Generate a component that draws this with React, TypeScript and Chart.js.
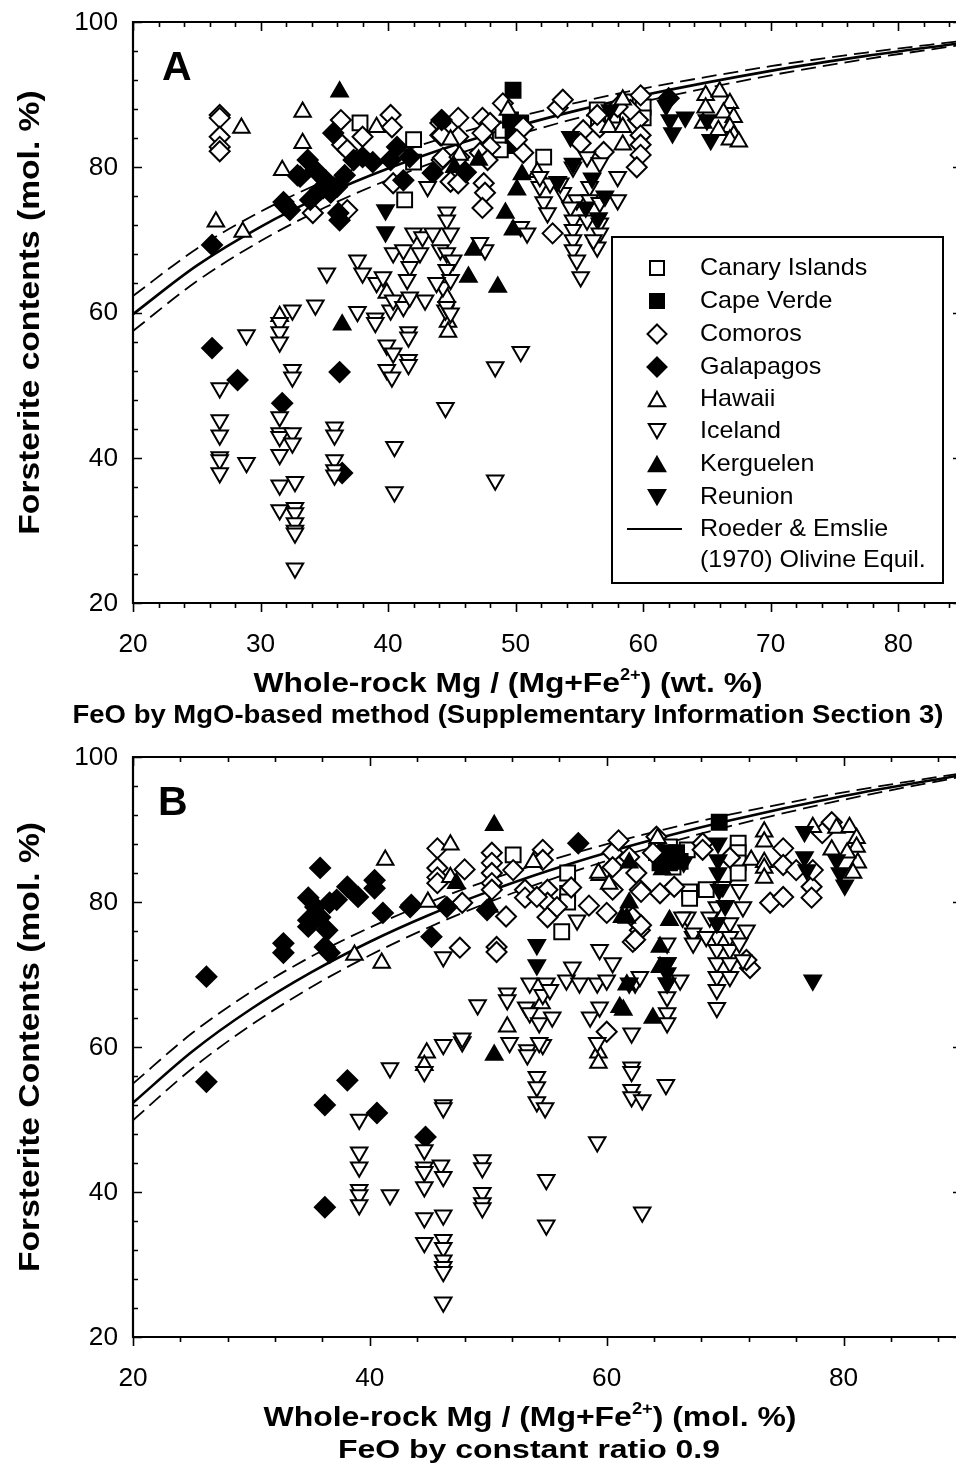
import React, { useEffect, useRef } from 'react';
import { Chart, registerables } from 'chart.js';

Chart.register(...registerables);

const FONT = '"Liberation Sans", Arial, Helvetica, sans-serif';

type Pt = [number, number];

// ---------- Panel A: whole-rock Mg# (wt. %) vs olivine Fo (mol. %) ----------
const canaryA: Pt[] = [[37.8,86.1],[42.0,83.8],[42.0,80.7],[41.3,75.5],[52.2,81.4],[48.8,83.8],[48.8,82.4],[56.4,87.9],[56.5,86.5],[60.0,88.3],[60.0,86.8],[49.0,85.1],[57.6,87.2],[58.6,89.0]];
const capeVerdeA: Pt[] = [[49.8,90.6],[49.6,86.5],[50.4,86.1],[49.8,84.4],[50.0,83.0]];
const comorosA: Pt[] = [[26.8,87.2],[26.8,86.8],[26.8,84.2],[26.8,82.8],[26.8,82.2],[36.3,86.5],[36.4,83.1],[38.0,84.2],[40.2,87.2],[40.3,85.5],[44.1,86.1],[44.1,84.4],[44.2,81.0],[40.4,77.8],[34.1,73.7],[36.8,82.4],[36.8,74.1],[44.2,86.5],[45.5,86.8],[44.2,84.4],[45.5,84.2],[47.4,86.8],[48.0,86.1],[47.4,84.7],[48.0,82.8],[47.2,82.0],[47.8,81.0],[44.3,81.3],[45.6,81.4],[44.9,78.0],[45.5,77.8],[47.5,77.8],[47.6,76.5],[47.4,74.4],[50.6,82.0],[52.9,70.9],[49.0,88.8],[50.6,85.5],[50.1,83.8],[53.3,88.2],[53.7,89.3],[55.3,85.1],[56.6,85.5],[55.1,83.3],[56.4,87.2],[59.8,89.9],[59.6,86.5],[59.8,84.4],[59.8,83.1],[59.8,81.7],[59.5,80.0],[59.0,87.9],[58.0,88.3],[56.9,82.1]];
const galapagosA: Pt[] = [[26.2,69.3],[26.2,55.1],[28.2,50.7],[31.7,47.5],[36.2,51.8],[36.4,37.9],[32.9,78.9],[35.7,84.7],[34.7,76.9],[35.5,76.5],[36.0,77.3],[36.2,72.7],[31.9,74.8],[32.3,74.1],[34.9,77.1],[36.1,73.7],[31.8,75.2],[33.1,78.7],[37.3,81.0],[38.0,81.4],[38.8,80.7],[40.7,82.8],[41.2,78.2],[43.5,79.2],[41.7,81.4],[44.2,86.5],[34.3,79.6],[35.1,78.2],[33.9,75.5],[36.6,78.9],[33.7,81.0],[40.2,81.0],[46.1,79.3],[62.0,89.5]];
const hawaiiA: Pt[] = [[33.3,87.6],[28.5,85.4],[33.3,83.3],[31.7,79.6],[26.5,72.5],[28.6,71.1],[39.1,85.5],[31.5,59.5],[44.7,58.7],[44.7,57.3],[39.9,62.7],[44.9,83.8],[49.4,87.9],[51.7,79.3],[57.3,85.5],[58.4,89.3],[58.4,85.5],[58.4,83.1],[64.9,89.9],[66.0,90.4],[66.8,88.8],[64.9,88.2],[66.3,87.5],[67.1,86.9],[64.7,86.1],[66.8,85.5],[65.9,85.1],[67.1,84.4],[66.8,83.8],[67.5,83.5],[44.6,62.1],[45.6,81.7]];
const icelandA: Pt[] = [[28.9,56.9],[31.5,58.6],[31.5,57.3],[31.5,55.9],[26.8,49.6],[26.8,45.2],[26.8,43.1],[26.8,40.1],[26.8,39.7],[26.8,37.9],[28.9,39.3],[31.5,45.6],[31.5,43.4],[31.5,42.9],[32.5,43.4],[32.5,42.0],[31.5,40.4],[31.5,36.2],[32.7,36.7],[31.5,32.8],[32.7,33.1],[32.7,32.4],[32.7,31.0],[32.7,30.0],[32.7,29.6],[32.7,24.8],[32.5,52.1],[32.5,51.1],[34.3,61.0],[32.5,60.3],[35.8,44.2],[35.8,43.1],[35.8,39.7],[35.8,38.3],[35.8,37.6],[37.6,60.1],[39.0,59.2],[39.0,58.6],[40.2,60.3],[39.9,55.5],[40.4,54.4],[39.9,52.1],[40.3,51.1],[41.6,57.3],[41.6,56.6],[41.6,53.5],[41.6,52.8],[40.5,41.5],[40.5,35.3],[44.5,46.9],[44.5,60.3],[48.4,52.5],[50.4,54.6],[48.4,36.9],[35.2,65.4],[37.6,67.2],[38.0,65.4],[39.1,64.1],[39.6,64.9],[40.4,68.2],[41.2,68.6],[41.7,66.3],[40.4,61.7],[41.2,60.8],[41.7,62.1],[43.1,77.3],[44.6,73.8],[44.6,72.7],[44.9,70.9],[42.0,70.9],[42.7,70.4],[43.5,70.9],[42.5,68.2],[44.1,68.6],[44.6,68.2],[45.1,67.2],[44.6,65.9],[44.3,63.5],[44.9,64.5],[41.5,64.5],[43.8,64.1],[44.6,60.8],[44.9,59.9],[47.6,68.6],[47.2,69.6],[50.4,71.8],[50.9,70.9],[51.9,77.3],[52.7,77.8],[52.2,75.2],[52.5,73.7],[53.7,76.5],[54.8,75.5],[54.3,74.5],[54.5,72.7],[54.5,71.4],[54.5,70.0],[54.5,68.6],[54.8,67.2],[55.1,64.9],[55.8,77.3],[55.8,75.5],[55.6,72.7],[56.6,75.1],[56.6,72.3],[56.6,70.9],[58.0,78.7],[58.0,75.5],[56.4,69.0],[56.1,70.0],[54.5,80.0],[55.6,81.4],[53.5,77.8],[51.9,78.7],[56.6,80.6],[42.9,61.7]];
const kerguelenA: Pt[] = [[36.2,90.4],[36.4,58.3],[49.2,73.7],[49.8,71.4],[46.3,64.9],[48.6,63.5],[46.7,68.6],[50.1,76.9],[47.1,81.0],[45.2,80.0],[50.5,79.0]];
const reunionA: Pt[] = [[39.8,74.1],[39.8,71.1],[54.3,84.2],[57.4,87.9],[62.1,86.5],[62.3,84.7],[63.3,86.9],[65.3,83.8],[65.0,86.5],[54.5,80.5],[56.0,78.5],[57.0,76.0],[55.5,74.5],[56.5,73.0],[53.3,78.0],[61.8,88.5]];

// Roeder & Emslie (1970) equilibrium curve, KD 0.30 (solid) and 0.27 / 0.33 (dashed)
const curveAx = [20, 25, 30, 35, 40, 45, 50, 55, 60, 70, 77.5, 85];
const curveASolid = [59.77, 66.45, 71.80, 76.19, 79.84, 82.94, 85.59, 87.90, 89.91, 93.27, 95.34, 97.11];
const curveAUpper = [62.28, 68.77, 73.89, 78.06, 81.49, 84.39, 86.85, 88.98, 90.83, 93.91, 95.79, 97.40];
const curveALower = [57.46, 64.30, 69.84, 74.42, 78.27, 81.55, 84.38, 86.85, 89.02, 92.65, 94.90, 96.84];

// ---------- Panel B: whole-rock Mg# (mol. %) vs olivine Fo (mol. %) ----------
const canaryB: Pt[] = [[52.1,86.5],[56.7,84.0],[56.7,81.2],[56.7,80.0],[56.2,75.9],[67.0,81.4],[65.3,87.6],[65.6,86.2],[65.6,84.8],[71.1,88.1],[71.1,86.8],[71.1,85.4],[71.1,84.0],[68.4,81.7],[66.8,87.2],[67.0,80.5]];
const capeVerdeB: Pt[] = [[69.5,91.0],[64.2,86.8],[65.1,86.8],[65.9,86.8],[64.5,85.4],[65.3,85.4],[66.2,85.6]];
const comorosB: Pt[] = [[45.7,87.4],[45.7,84.7],[45.7,83.4],[45.7,82.6],[47.8,79.9],[47.6,73.7],[50.3,86.8],[50.3,85.4],[50.3,84.0],[50.3,82.6],[50.3,81.7],[50.7,73.8],[50.7,73.1],[52.1,84.4],[53.1,81.7],[53.1,80.6],[54.6,87.2],[54.6,85.8],[55.0,81.7],[55.0,79.9],[55.0,77.9],[54.1,80.7],[55.8,79.3],[60.5,86.8],[60.5,84.8],[60.5,81.7],[60.0,78.5],[62.2,77.9],[62.8,76.1],[62.2,74.5],[61.9,86.2],[64.2,89.0],[63.9,86.8],[62.8,81.7],[64.5,81.2],[65.7,82.1],[60.0,62.1],[68.1,88.1],[68.1,87.2],[70.4,86.1],[72.1,70.9],[73.8,79.9],[74.9,80.7],[74.9,87.4],[74.9,85.1],[77.3,82.1],[77.3,80.6],[79.0,91.0],[78.2,89.5],[76.0,84.4],[77.4,84.4],[62.5,84.0],[62.9,81.4],[62.4,74.8],[62.9,76.8],[71.8,72.0],[61.0,88.5],[57.0,82.0],[58.5,79.5],[51.5,78.0],[48.0,84.5]];
const galapagosB: Pt[] = [[35.8,84.7],[34.8,80.6],[34.8,77.5],[34.8,76.6],[35.8,77.9],[36.4,76.1],[36.2,73.8],[36.6,73.0],[37.2,80.3],[38.1,82.1],[39.0,80.7],[40.4,83.0],[40.4,81.9],[41.1,78.5],[43.5,79.6],[32.7,74.3],[32.7,73.0],[26.2,69.7],[35.4,79.3],[36.6,79.9],[43.4,79.3],[46.5,79.3],[49.9,78.9],[45.2,75.2],[57.6,88.1],[26.2,55.2],[36.2,52.0],[38.1,55.4],[40.6,50.9],[36.2,37.9],[44.7,47.6]];
const hawaiiB: Pt[] = [[41.3,85.8],[38.7,72.7],[41.0,71.6],[46.8,87.9],[44.9,80.0],[46.8,83.4],[53.8,85.5],[59.4,83.7],[64.3,88.8],[51.6,62.8],[44.8,59.2],[44.6,57.5],[59.3,59.2],[59.3,57.8],[73.3,89.7],[73.3,88.3],[72.2,85.8],[73.3,85.5],[73.3,84.7],[73.3,83.3],[79.4,90.2],[80.5,90.3],[81.1,88.8],[81.1,87.6],[81.2,85.4],[80.8,84.0],[79.0,87.2],[80.3,86.8],[77.4,90.3],[59.3,84.0],[60.2,82.5],[54.5,66.0]];
const icelandB: Pt[] = [[41.7,57.1],[39.1,50.0],[39.1,45.5],[39.1,43.4],[39.1,40.3],[39.1,39.6],[39.1,38.2],[41.7,39.6],[44.6,56.6],[44.6,45.8],[44.6,43.4],[44.6,42.8],[46.0,43.7],[46.2,42.1],[44.6,40.7],[44.6,36.4],[46.2,36.8],[44.6,33.0],[46.2,33.4],[46.2,32.3],[46.2,30.6],[46.2,29.7],[46.2,29.0],[46.2,24.8],[46.2,52.0],[46.2,51.6],[49.5,44.4],[49.5,43.3],[49.5,39.9],[49.5,38.5],[49.5,37.8],[54.9,41.7],[54.9,35.4],[63.0,37.2],[59.2,46.9],[62.1,57.2],[62.1,56.6],[62.1,54.1],[62.1,53.1],[63.0,52.7],[65.0,54.8],[53.3,59.6],[53.3,58.9],[54.1,55.9],[54.1,54.5],[54.1,52.4],[54.8,51.6],[51.8,60.6],[54.6,60.3],[47.8,60.7],[46.2,60.3],[59.2,60.6],[57.5,77.5],[46.2,72.4],[49.1,65.8],[47.8,61.2],[51.6,67.4],[51.6,66.5],[53.5,68.8],[54.9,68.8],[53.2,65.5],[53.5,64.7],[54.6,67.2],[55.2,67.9],[54.3,63.3],[55.4,64.1],[54.3,60.6],[56.6,69.2],[57.1,71.0],[57.7,68.8],[59.2,68.8],[60.0,69.2],[59.4,73.4],[60.5,71.6],[58.6,64.1],[59.4,65.5],[62.1,61.9],[62.4,68.8],[62.8,69.7],[65.1,74.3],[65.1,71.6],[65.1,68.8],[65.1,66.9],[65.1,64.7],[65.1,63.3],[66.8,77.9],[67.3,75.2],[66.2,69.2],[67.3,75.7],[67.3,74.3],[69.3,79.3],[69.3,77.1],[69.3,75.2],[69.3,73.4],[69.3,71.6],[69.3,69.7],[69.3,67.9],[69.3,65.4],[70.4,77.1],[70.4,75.2],[70.4,73.4],[70.4,71.6],[70.4,69.7],[71.5,79.3],[71.8,76.1],[71.2,74.3],[71.5,72.0],[68.7,77.9],[68.4,75.2],[66.4,77.9],[69.8,82.1],[71.2,81.7]];
const kerguelenB: Pt[] = [[50.5,90.6],[61.4,65.1],[63.9,64.0],[50.5,58.9],[61.9,79.9],[61.7,77.8],[65.3,77.5],[64.5,73.8],[47.3,82.6],[50.1,79.3],[61.9,85.4],[61.3,77.9],[64.5,71.0],[61.7,68.6],[61.1,65.5],[64.7,84.5]];
const reunionB: Pt[] = [[54.1,74.1],[54.1,71.3],[61.9,68.8],[65.1,71.6],[65.1,70.2],[65.1,68.8],[69.4,88.1],[69.4,85.8],[69.4,84.0],[69.5,81.7],[76.7,89.7],[76.7,86.2],[76.9,84.4],[79.4,85.8],[79.7,84.0],[77.4,69.2],[69.3,77.1],[80.1,82.3],[70.0,79.5],[66.5,85.5]];

const curveBx = [20, 25, 30, 35, 40, 45, 50, 55, 60, 65, 70, 80, 90];
const curveBSolid = [52.30, 59.38, 65.27, 70.25, 74.52, 78.21, 81.43, 84.28, 86.81, 89.06, 91.10, 94.61, 97.53];
const curveBUpper = [54.95, 61.92, 67.64, 72.43, 76.48, 79.96, 82.99, 85.64, 87.98, 90.06, 91.92, 95.12, 97.77];
const curveBLower = [49.90, 57.04, 63.06, 68.21, 72.65, 76.52, 79.94, 82.96, 85.67, 88.09, 90.29, 94.10, 97.29];

const yTickLabels = [20, 40, 60, 80, 100];
const xTickLabelsA = [20, 30, 40, 50, 60, 70, 80];
const xTickLabelsB = [20, 40, 60, 80];

type Kind = 'square' | 'diamond' | 'up' | 'down';
const SERIES: { name: string; kind: Kind; filled: boolean }[] = [
  { name: 'Canary Islands', kind: 'square', filled: false },
  { name: 'Cape Verde', kind: 'square', filled: true },
  { name: 'Comoros', kind: 'diamond', filled: false },
  { name: 'Galapagos', kind: 'diamond', filled: true },
  { name: 'Hawaii', kind: 'up', filled: false },
  { name: 'Iceland', kind: 'down', filled: false },
  { name: 'Kerguelen', kind: 'up', filled: true },
  { name: 'Reunion', kind: 'down', filled: true },
];

function scatterSets(groups: Pt[][]) {
  return groups.map((pts, i) => {
    const s = SERIES[i];
    const style = s.kind === 'square' ? 'rect' : s.kind === 'diamond' ? 'rectRot' : 'triangle';
    const r = s.kind === 'square' ? 10.5 : s.kind === 'diamond' ? 10 : 9.5;
    return {
      label: s.name,
      data: pts.map(([x, y]) => ({ x, y })),
      showLine: false,
      pointStyle: style,
      pointRotation: s.kind === 'down' ? 180 : 0,
      pointRadius: r,
      pointHoverRadius: r,
      pointBackgroundColor: s.filled ? '#000' : '#fff',
      pointBorderColor: '#000',
      pointBorderWidth: 2,
      order: 8 - i,
    };
  });
}

function curveSets(xs: number[], solid: number[], upper: number[], lower: number[]) {
  const mk = (ys: number[], dashed: boolean) => ({
    label: dashed ? 'bound' : 'Roeder & Emslie (1970) Olivine Equil.',
    data: xs.map((x, i) => ({ x, y: ys[i] })),
    showLine: true,
    fill: false,
    borderColor: '#000',
    borderWidth: dashed ? 1.8 : 2.6,
    borderDash: dashed ? [15, 7] : [],
    cubicInterpolationMode: 'monotone',
    pointRadius: 0,
    pointHoverRadius: 0,
    order: 20,
  });
  return [mk(solid, false), mk(upper, true), mk(lower, true)];
}

function drawText(
  ctx: CanvasRenderingContext2D, s: string, x: number, y: number, font: string,
  align: 'left' | 'center' | 'right', sx = 1, baseline: CanvasTextBaseline = 'alphabetic'
) {
  ctx.save();
  ctx.font = font;
  ctx.textAlign = 'left';
  ctx.textBaseline = baseline;
  const w = ctx.measureText(s).width * sx;
  const x0 = align === 'left' ? x : align === 'center' ? x - w / 2 : x - w;
  ctx.translate(x0, y);
  ctx.scale(sx, 1);
  ctx.fillText(s, 0, 0);
  ctx.restore();
}

function drawMarker(ctx: CanvasRenderingContext2D, kind: Kind, filled: boolean, x: number, y: number) {
  ctx.beginPath();
  if (kind === 'square') {
    const h = 7;
    ctx.rect(x - h, y - h, 2 * h, 2 * h);
  } else if (kind === 'diamond') {
    const r = 9.5;
    ctx.moveTo(x, y - r); ctx.lineTo(x + r, y); ctx.lineTo(x, y + r); ctx.lineTo(x - r, y); ctx.closePath();
  } else {
    const r = 9.5;
    const c = kind === 'up' ? y + 0.25 * r : y - 0.25 * r;
    const d = kind === 'up' ? 1 : -1;
    ctx.moveTo(x, c - d * r);
    ctx.lineTo(x + 0.866 * r, c + d * 0.5 * r);
    ctx.lineTo(x - 0.866 * r, c + d * 0.5 * r);
    ctx.closePath();
  }
  ctx.fillStyle = filled ? '#000' : '#fff';
  ctx.fill();
  ctx.strokeStyle = '#000';
  ctx.lineWidth = 2;
  ctx.stroke();
}

interface PanelSpec {
  xMin: number; xMax: number; xMajor: number; xMinor: number; xLabels: number[];
  letter: string; letterX: number; letterY: number;
  titleMain: string; titleUnit: string; titleCx: number; titleY: number; titleW: number;
  sub: string; subCx: number; subY: number; subW: number;
  yTitle: string;
  legend: boolean;
}

function framePlugin(spec: PanelSpec) {
  return {
    id: 'frame',
    afterDraw(chart: any) {
      const ctx: CanvasRenderingContext2D = chart.ctx;
      const a = chart.chartArea;
      const xs = chart.scales.x;
      const ys = chart.scales.y;
      ctx.save();
      ctx.strokeStyle = '#000';
      ctx.fillStyle = '#000';

      // frame
      ctx.lineWidth = 2.2;
      ctx.beginPath();
      ctx.moveTo(a.left, a.top); ctx.lineTo(a.right, a.top);
      ctx.moveTo(a.left, a.top - 1); ctx.lineTo(a.left, a.bottom + 1);
      ctx.moveTo(a.left, a.bottom); ctx.lineTo(a.right, a.bottom);
      ctx.moveTo(a.right, a.top); ctx.lineTo(a.right, a.bottom);
      ctx.stroke();

      // ticks
      ctx.lineWidth = 1.6;
      ctx.beginPath();
      for (let v = spec.xMin; v <= spec.xMax + 1e-6; v += spec.xMinor) {
        const px = Math.round(xs.getPixelForValue(v)) + 0.5;
        const major = Math.abs(v / spec.xMajor - Math.round(v / spec.xMajor)) < 1e-6;
        const len = major ? 9 : 5;
        ctx.moveTo(px, a.bottom); ctx.lineTo(px, a.bottom + len);
        ctx.moveTo(px, a.top); ctx.lineTo(px, a.top + len);
      }
      for (let v = 20; v <= 100 + 1e-6; v += 4) {
        const py = Math.round(ys.getPixelForValue(v)) + 0.5;
        const major = v % 20 === 0;
        const len = major ? 9 : 5;
        ctx.moveTo(a.left, py); ctx.lineTo(a.left + len, py);
        ctx.moveTo(a.right, py); ctx.lineTo(a.right - len, py);
      }
      ctx.stroke();

      // tick labels
      const tickFont = `25px ${FONT}`;
      for (const v of yTickLabels) {
        drawText(ctx, String(v), a.left - 15, ys.getPixelForValue(v) + 1, tickFont, 'right', 1.05, 'middle');
      }
      for (const v of spec.xLabels) {
        drawText(ctx, String(v), xs.getPixelForValue(v), a.bottom + 49, tickFont, 'center', 1.05);
      }

      // x-axis title with superscript charge
      const big = `bold 28px ${FONT}`;
      const small = `bold 16px ${FONT}`;
      ctx.font = big;
      const w1 = ctx.measureText(spec.titleMain).width;
      const w3 = ctx.measureText(spec.titleUnit).width;
      ctx.font = small;
      const w2 = ctx.measureText('2+').width;
      const sx = spec.titleW / (w1 + w2 + w3);
      let tx = spec.titleCx - spec.titleW / 2;
      drawText(ctx, spec.titleMain, tx, spec.titleY, big, 'left', sx);
      tx += w1 * sx;
      drawText(ctx, '2+', tx, spec.titleY - 12, small, 'left', sx);
      tx += w2 * sx;
      drawText(ctx, spec.titleUnit, tx, spec.titleY, big, 'left', sx);

      // second line of the x-axis title
      const subFont = `bold 25px ${FONT}`;
      ctx.font = subFont;
      const ws = ctx.measureText(spec.sub).width;
      drawText(ctx, spec.sub, spec.subCx, spec.subY, subFont, 'center', spec.subW / ws);

      // y-axis title
      ctx.save();
      ctx.translate(39, (a.top + a.bottom) / 2);
      ctx.rotate(-Math.PI / 2);
      drawText(ctx, spec.yTitle, 0, 0, `bold 30px ${FONT}`, 'center', 1.12);
      ctx.restore();

      // panel letter
      drawText(ctx, spec.letter, spec.letterX, spec.letterY, `bold 41px ${FONT}`, 'left', 1.0);

      // legend
      if (spec.legend) {
        const L = 612, R = 943, T = 237, B = 583;
        ctx.fillStyle = '#fff';
        ctx.fillRect(L, T, R - L, B - T);
        ctx.strokeStyle = '#000';
        ctx.lineWidth = 2;
        ctx.strokeRect(L, T, R - L, B - T);
        const rows = [268, 301, 334, 367, 399, 431, 464, 497];
        const lf = `24px ${FONT}`;
        SERIES.forEach((s, i) => {
          drawMarker(ctx, s.kind, s.filled, 657, rows[i]);
          ctx.fillStyle = '#000';
          drawText(ctx, s.name, 700, rows[i], lf, 'left', 1.045, 'middle');
        });
        ctx.strokeStyle = '#000';
        ctx.lineWidth = 2;
        ctx.beginPath();
        ctx.moveTo(627, 529); ctx.lineTo(682, 529);
        ctx.stroke();
        ctx.fillStyle = '#000';
        drawText(ctx, 'Roeder & Emslie', 700, 529, lf, 'left', 1.045, 'middle');
        drawText(ctx, '(1970) Olivine Equil.', 700, 560, lf, 'left', 1.045, 'middle');
      }
      ctx.restore();
    },
  };
}

function Panel(props: {
  spec: PanelSpec; datasets: any[]; width: number; height: number;
  padding: { left: number; right: number; top: number; bottom: number };
}) {
  const ref = useRef<HTMLCanvasElement | null>(null);
  useEffect(() => {
    if (!ref.current) return;
    const chart = new Chart(ref.current, {
      type: 'scatter',
      data: { datasets: props.datasets },
      options: {
        animation: false,
        responsive: false,
        devicePixelRatio: 1,
        events: [],
        layout: { padding: props.padding, autoPadding: false },
        scales: {
          x: { type: 'linear', min: props.spec.xMin, max: props.spec.xMax, display: false, ticks: { display: false } },
          y: { type: 'linear', min: 20, max: 100, display: false, ticks: { display: false } },
        },
        plugins: { legend: { display: false }, tooltip: { enabled: false } },
      } as any,
      plugins: [framePlugin(props.spec)],
    });
    return () => chart.destroy();
  }, []);
  return (
    <canvas
      ref={ref}
      width={props.width}
      height={props.height}
      style={{ display: 'block', width: props.width, height: props.height }}
    />
  );
}

const specA: PanelSpec = {
  xMin: 20, xMax: 85, xMajor: 10, xMinor: 2, xLabels: xTickLabelsA,
  letter: 'A', letterX: 162, letterY: 80,
  titleMain: 'Whole-rock Mg / (Mg+Fe', titleUnit: ') (wt. %)', titleCx: 508, titleY: 692, titleW: 509,
  sub: 'FeO by MgO-based method (Supplementary Information Section 3)', subCx: 508, subY: 723, subW: 871,
  yTitle: 'Forsterite contents (mol. %)',
  legend: true,
};

const specB: PanelSpec = {
  xMin: 20, xMax: 90, xMajor: 20, xMinor: 4, xLabels: xTickLabelsB,
  letter: 'B', letterX: 158, letterY: 70,
  titleMain: 'Whole-rock Mg / (Mg+Fe', titleUnit: ') (mol. %)', titleCx: 530, titleY: 681, titleW: 533,
  sub: 'FeO by constant ratio 0.9', subCx: 529, subY: 713, subW: 382,
  yTitle: 'Forsterite Contents (mol. %)',
  legend: false,
};

export default function App() {
  const dsA = [
    ...curveSets(curveAx, curveASolid, curveAUpper, curveALower),
    ...scatterSets([canaryA, capeVerdeA, comorosA, galapagosA, hawaiiA, icelandA, kerguelenA, reunionA]),
  ];
  const dsB = [
    ...curveSets(curveBx, curveBSolid, curveBUpper, curveBLower),
    ...scatterSets([canaryB, capeVerdeB, comorosB, galapagosB, hawaiiB, icelandB, kerguelenB, reunionB]),
  ];
  return (
    <div style={{ position: 'absolute', left: 0, top: 0, width: 956, height: 1469, overflow: 'hidden', background: '#fff' }}>
      <div style={{ position: 'absolute', left: 0, top: 0 }}>
        <Panel spec={specA} datasets={dsA} width={964} height={745}
          padding={{ left: 133, right: 2, top: 22, bottom: 142 }} />
      </div>
      <div style={{ position: 'absolute', left: 0, top: 745 }}>
        <Panel spec={specB} datasets={dsB} width={964} height={724}
          padding={{ left: 133, right: 2, top: 12, bottom: 132 }} />
      </div>
    </div>
  );
}
